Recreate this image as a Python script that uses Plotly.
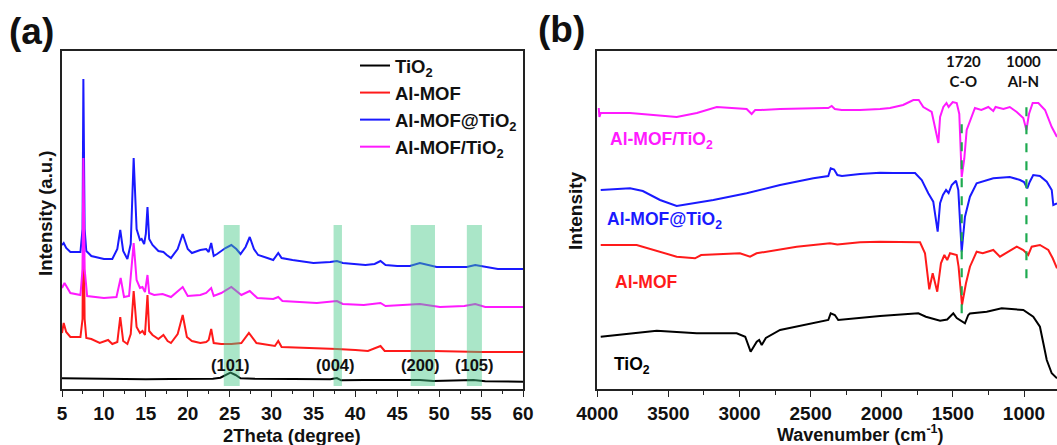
import plotly.graph_objects as go

# ---------------- (a) XRD data (2theta in degree, intensity a.u.) ----------------
xrd_theta_tio2 = [5.0, 8.0, 12.0, 15.0, 18.0, 21.5, 23.0, 23.9, 24.5, 25.1, 25.7, 26.3, 28.0, 30.0, 33.6, 37.0, 37.8, 38.3, 41.0, 45.0, 47.7, 49.3, 52.0, 54.1, 55.5, 60.0]
xrd_int_tio2 = [10.7, 10.2, 10.0, 9.7, 9.9, 9.7, 10.3, 11.3, 14.0, 16.3, 14.0, 10.7, 10.2, 10.0, 10.0, 9.8, 11.0, 8.7, 9.0, 8.6, 9.0, 8.0, 8.2, 9.0, 7.8, 7.3]

xrd_theta_mof = [5.0, 5.2, 5.5, 6.0, 7.2, 7.45, 7.55, 7.7, 7.9, 8.5, 9.5, 10.5, 11.0, 11.6, 11.95, 12.3, 12.8, 13.2, 13.55, 13.9, 14.3, 14.6, 14.9, 15.2, 15.4, 15.8, 16.5, 17.1, 17.6, 18.0, 18.8, 19.4, 19.9, 20.5, 21.5, 22.2, 22.5, 22.8, 23.1, 24.0, 25.2, 26.4, 27.3, 28.2, 30.4, 30.8, 31.2, 35.4, 37.8, 40.0, 41.5, 43.0, 43.5, 46.0, 49.3, 55.0, 60.0]
xrd_int_mof = [56, 66, 57, 52, 52, 70, 190, 70, 51, 50, 46, 49, 45, 47, 72, 48, 45, 55, 98, 62, 56, 58, 54, 94, 58, 54, 50, 54, 48, 46, 55, 74, 52, 48, 46, 47, 49, 60, 46, 45, 45, 46, 56, 46, 43, 48, 42, 41, 40, 39, 38, 43, 38, 38, 38, 37, 37]

xrd_theta_at = [5.0, 5.2, 5.5, 6.0, 7.2, 7.45, 7.55, 7.7, 7.9, 8.5, 10.0, 11.0, 11.6, 11.95, 12.3, 12.8, 13.2, 13.55, 13.9, 14.3, 14.5, 14.8, 15.0, 15.2, 15.4, 15.8, 16.5, 17.1, 17.5, 18.0, 18.8, 19.4, 20.0, 20.5, 21.5, 22.2, 22.5, 22.8, 23.1, 23.5, 24.5, 25.2, 25.8, 26.3, 26.9, 27.4, 27.9, 28.4, 29.5, 30.2, 30.8, 31.2, 32.5, 35.0, 37.0, 37.8, 38.5, 40.0, 41.2, 42.3, 43.0, 43.6, 45.0, 46.5, 47.7, 49.7, 52.0, 53.3, 54.3, 55.5, 57.0, 60.0]
xrd_int_at = [144, 146, 141, 137, 137, 160, 310, 160, 138, 133, 130, 130, 140, 159, 138, 130, 145, 231, 160, 149, 150, 145, 155, 182, 150, 144, 138, 137, 134, 131, 140, 155, 140, 136, 139, 140, 137, 146, 133, 135, 141, 144, 140, 135, 142, 152, 140, 134, 131, 129, 136, 131, 129, 126, 127, 128, 126, 125, 124, 125, 128, 124, 123, 123, 126, 122, 122, 122, 124, 122, 120, 120]

xrd_theta_mix = [5.0, 5.3, 6.0, 7.2, 7.45, 7.55, 7.7, 8.0, 10.0, 11.5, 12.0, 12.4, 13.0, 13.55, 13.9, 14.3, 14.6, 14.9, 15.2, 15.4, 16.0, 17.0, 18.0, 19.4, 20.0, 21.5, 22.2, 22.8, 23.1, 24.0, 25.2, 26.4, 27.4, 28.3, 30.2, 30.8, 31.3, 35.4, 37.8, 38.5, 41.0, 43.0, 43.6, 46.5, 47.7, 50.1, 53.0, 54.3, 55.5, 60.0]
xrd_int_mix = [101, 106, 96, 94, 120, 231, 120, 93, 91, 92, 111, 92, 93, 146, 109, 101, 102, 97, 114, 96, 94, 95, 92, 102, 93, 94, 96, 101, 93, 96, 102, 94, 98, 91, 90, 92, 88, 86, 88, 85, 84, 86, 83, 84, 85, 82, 83, 85, 82, 82]

xrd_names = ["TiO<sub>2</sub>", "Al-MOF", "Al-MOF@TiO<sub>2</sub>", "Al-MOF/TiO<sub>2</sub>"]
series_colors = ["#000000", "#ff1a1a", "#1a1aff", "#ff1aff"]

xrd_ticks = [5, 10, 15, 20, 25, 30, 35, 40, 45, 50, 55, 60]
xrd_minor = [7.5, 12.5, 17.5, 22.5, 27.5, 32.5, 37.5, 42.5, 47.5, 52.5, 57.5]

band_ranges = [(24.3, 26.2), (37.4, 38.4), (46.6, 49.5), (53.3, 55.1)]
band_labels = ["(101)", "(004)", "(200)", "(105)"]
band_label_x = [25.1, 37.6, 47.8, 54.2]

# ---------------- (b) FTIR data (wavenumber cm-1, intensity) ----------------
ir_w_tio2 = [3976, 3582, 3301, 3020, 2960, 2922, 2879, 2862, 2844, 2815, 2715, 2376, 2359, 2330, 2306, 2012, 1743, 1690, 1590, 1540, 1497, 1473, 1415, 1392, 1380, 1262, 1157, 1005, 935, 888, 864, 840, 805, 768]
ir_i_tio2 = [52.3, 58.3, 55.7, 55.7, 52.3, 37.3, 47.3, 49, 44, 51, 59, 69, 75.7, 74, 69, 73, 75.7, 72.3, 68.3, 69.5, 75.7, 71, 65.7, 74, 75.5, 77.3, 80.7, 79, 72.3, 62.3, 45.7, 29, 15.7, 10.7]

ir_w_mof = [3976, 3723, 3442, 3313, 3270, 2997, 2926, 2880, 2598, 2364, 2312, 2153, 2012, 1731, 1696, 1666, 1642, 1610, 1584, 1560, 1540, 1520, 1473, 1460, 1436, 1408, 1380, 1333, 1290, 1216, 1169, 1110, 1051, 1005, 970, 946, 888, 829, 798, 768]
ir_i_mof = [144, 144, 132.3, 130.7, 134, 135.7, 132.3, 135.7, 142.3, 145.7, 144.5, 146.7, 147.3, 146.7, 135.7, 99.7, 115.7, 97.3, 125.7, 134, 129, 135.7, 134, 122.3, 84, 105.7, 122.3, 137.3, 135.7, 139, 132.3, 137.3, 142.3, 139, 134, 142.3, 144, 139, 130.7, 120.7]

ir_w_at = [3976, 3770, 3680, 3559, 3442, 3400, 3313, 3184, 2950, 2715, 2481, 2376, 2359, 2335, 2312, 2280, 2153, 2012, 1919, 1766, 1719, 1673, 1638, 1607, 1590, 1570, 1548, 1530, 1508, 1478, 1462, 1438, 1415, 1380, 1333, 1216, 1100, 1028, 1000, 977, 960, 935, 888, 840, 805, 794, 768]
ir_i_at = [199, 200.7, 198, 189, 183, 184, 185.7, 189, 195.7, 204, 210.7, 213, 220.7, 219.5, 214, 213, 215, 216.3, 216, 216, 209, 195.7, 187.3, 157.3, 185.7, 194, 199, 196, 204, 208.3, 199, 137.3, 172.3, 192.3, 205.7, 210.7, 212, 209, 207, 200.7, 207, 214, 213, 207.3, 199, 184, 185.7]

ir_w_mix = [3990, 3985, 3976, 3770, 3442, 3300, 3160, 2950, 2915, 2890, 2850, 2715, 2400, 2376, 2352, 2330, 2282, 2153, 2012, 1942, 1850, 1778, 1740, 1708, 1649, 1625, 1602, 1590, 1567, 1545, 1530, 1501, 1473, 1455, 1438, 1420, 1403, 1345, 1300, 1251, 1216, 1200, 1145, 1100, 1051, 1005, 983, 965, 939, 899, 852, 805, 768]
ir_i_mix = [281, 272, 276, 276, 272, 276, 282, 280, 275, 279, 279, 280, 281, 281, 283, 280, 279, 279, 280, 281, 284, 289, 289, 282, 277, 260, 246, 272, 282, 286, 282, 287, 286, 275, 212, 230, 259, 281, 279, 282, 278, 282, 280, 282, 277, 271, 259, 275, 286, 286, 279, 262, 252]

ir_labels = ["TiO<sub>2</sub>", "Al-MOF", "Al-MOF@TiO<sub>2</sub>", "Al-MOF/TiO<sub>2</sub>"]
ir_label_w = [3896, 3889, 3945, 3924]
ir_label_i = [24, 107, 169, 249]

ir_ticks = [4000, 3500, 3000, 2500, 2000, 1500, 1000]
ir_minor = [3750, 3250, 2750, 2250, 1750, 1250, 750]

marker_w = [1438, 983]
marker_i_low = [75.7, 110.7]
marker_i_high = [272.3, 282.3]
marker_text = ["1720<br>C-O", "1000<br>Al-N"]
marker_text_w = [1423, 1005]

FONT = "Arial, Liberation Sans, sans-serif"

fig = go.Figure()

xrd_x = [xrd_theta_tio2, xrd_theta_mof, xrd_theta_at, xrd_theta_mix]
xrd_y = [xrd_int_tio2, xrd_int_mof, xrd_int_at, xrd_int_mix]
for xs, ys, nm, col in zip(xrd_x, xrd_y, xrd_names, series_colors):
    fig.add_trace(go.Scatter(x=xs, y=ys, mode="lines", name=nm,
                             line=dict(color=col, width=2),
                             xaxis="x", yaxis="y", showlegend=True))

ir_x = [ir_w_tio2, ir_w_mof, ir_w_at, ir_w_mix]
ir_y = [ir_i_tio2, ir_i_mof, ir_i_at, ir_i_mix]
for xs, ys, nm, col in zip(ir_x, ir_y, ir_labels, series_colors):
    fig.add_trace(go.Scatter(x=xs, y=ys, mode="lines", name=nm,
                             line=dict(color=col, width=2),
                             xaxis="x2", yaxis="y2", showlegend=False))

shapes = []
for (a, b) in band_ranges:
    shapes.append(dict(type="rect", xref="x", yref="y", x0=a, x1=b, y0=3, y1=164,
                       fillcolor="rgba(66,199,133,0.45)", line=dict(width=0), layer="above"))
for w, lo, hi in zip(marker_w, marker_i_low, marker_i_high):
    shapes.append(dict(type="line", xref="x2", yref="y2", x0=w, x1=w, y0=lo, y1=hi,
                       line=dict(color="rgb(30,170,80)", width=2.2, dash="dash"), layer="above"))

annotations = []
for t, xv in zip(band_labels, band_label_x):
    annotations.append(dict(text="<b>%s</b>" % t, x=xv, y=24, xref="x", yref="y", showarrow=False,
                            xanchor="center", yanchor="middle",
                            font=dict(family=FONT, size=16.5, color="#111")))
for t, w, v, col in zip(ir_labels, ir_label_w, ir_label_i, series_colors):
    annotations.append(dict(text="<b>%s</b>" % t, x=w, y=v, xref="x2", yref="y2", showarrow=False,
                            xanchor="left", yanchor="middle",
                            font=dict(family=FONT, size=17.5, color=col)))
for t, w in zip(marker_text, marker_text_w):
    annotations.append(dict(text="<b>%s</b>" % t, x=w, y=318, xref="x2", yref="y2", showarrow=False,
                            xanchor="center", yanchor="middle",
                            font=dict(family="Lato, Open Sans, sans-serif", size=15, color="#111")))

def paper_text(text, px, py, size, angle=0):
    return dict(text="<b>%s</b>" % text, x=px / 1057, y=1 - py / 445, xref="paper", yref="paper",
                xanchor="center", yanchor="middle", showarrow=False, textangle=angle,
                font=dict(family=FONT, size=size, color="#111"))

annotations += [
    paper_text("2Theta (degree)", 292, 435, 18.5),
    paper_text("Wavenumber (cm<sup>-1</sup>)", 860, 433.5, 18),
    paper_text("Intensity (a.u.)", 45, 214, 18.5, -90),
    paper_text("Intensity", 575, 211, 19, -90),
    paper_text("(a)", 31, 31, 37),
    paper_text("(b)", 561, 30, 37),
]

y_dom = [1 - 389 / 445, 1 - 50.5 / 445]
tickfont = dict(family=FONT, size=19, color="#111", weight="bold")

fig.update_layout(
    width=1057, height=445,
    margin=dict(l=0, r=0, t=0, b=0, autoexpand=False),
    paper_bgcolor="white", plot_bgcolor="white",
    shapes=shapes, annotations=annotations,
    legend=dict(x=355 / 1057, y=1 - 47 / 445, xanchor="left", yanchor="top",
                bgcolor="rgba(0,0,0,0)", font=dict(family=FONT, size=18.5, color="#111", weight="bold"),
                tracegroupgap=0, itemwidth=30),
    xaxis=dict(domain=[62 / 1057, 523 / 1057], range=[5, 60], anchor="y", automargin=False,
               showline=True, linecolor="#222", linewidth=1.6, mirror=True,
               ticks="outside", ticklen=6, tickwidth=1.4, tickcolor="#222",
               tickmode="array", tickvals=xrd_ticks, ticktext=[str(t) for t in xrd_ticks],
               minor=dict(tickvals=xrd_minor, ticks="outside", ticklen=3.5, tickwidth=1.4, tickcolor="#222"),
               showgrid=False, zeroline=False, tickfont=tickfont),
    yaxis=dict(domain=y_dom, range=[0, 338.5], anchor="x", automargin=False,
               showline=True, linecolor="#222", linewidth=1.6, mirror=True,
               showticklabels=False, ticks="", showgrid=False, zeroline=False),
    xaxis2=dict(domain=[597.3 / 1057, 1.0], range=[4000, 768], anchor="y2", automargin=False,
                showline=True, linecolor="#222", linewidth=1.6, mirror=True,
                ticks="outside", ticklen=6, tickwidth=1.4, tickcolor="#222",
                tickmode="array", tickvals=ir_ticks, ticktext=[str(t) for t in ir_ticks],
                minor=dict(tickvals=ir_minor, ticks="outside", ticklen=4, tickwidth=1.4, tickcolor="#222"),
                showgrid=False, zeroline=False, tickfont=tickfont),
    yaxis2=dict(domain=y_dom, range=[0, 338.5], anchor="x2", automargin=False,
                showline=True, linecolor="#222", linewidth=1.6, mirror=False,
                showticklabels=False, ticks="", showgrid=False, zeroline=False),
)

fig.write_html("out.html")
